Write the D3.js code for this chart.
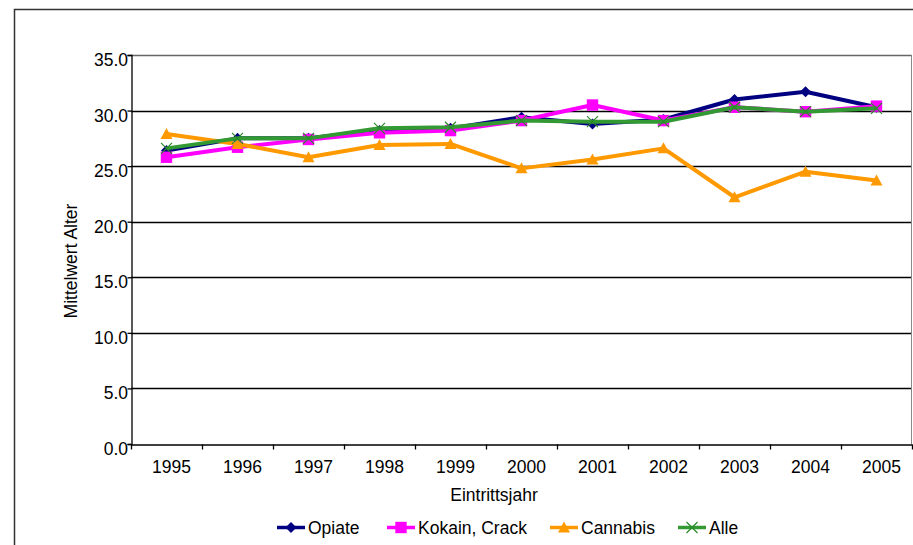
<!DOCTYPE html>
<html>
<head>
<meta charset="utf-8">
<script src="https://cdn.jsdelivr.net/npm/d3@7"></script>
<style>
  body { margin: 0; background: #fff; }
  text { font-family: "Liberation Sans", Arial, sans-serif; fill: #000; }
</style>
</head>
<body>
<div id="chart"></div>
<script>
// data
const years = ["1995", "1996", "1997", "1998", "1999", "2000", "2001", "2002", "2003", "2004", "2005"];
const opiate   = [26.4, 27.5, 27.5, 28.2, 28.4, 29.4, 28.8, 29.2, 31.0, 31.7, 30.3];
const kokain   = [25.8, 26.7, 27.4, 28.0, 28.2, 29.1, 30.5, 29.1, 30.3, 29.9, 30.4];
const cannabis = [27.9, 27.0, 25.8, 26.9, 27.0, 24.8, 25.6, 26.6, 22.2, 24.5, 23.7];
const alle     = [26.6, 27.5, 27.5, 28.4, 28.5, 29.1, 29.0, 29.0, 30.3, 29.9, 30.2];
const yTicks = [0, 5, 10, 15, 20, 25, 30, 35];

const series = [
  {name: "Opiate", values: opiate, color: "#000080", marker: "diamond"},
  {name: "Kokain, Crack", values: kokain, color: "#ff00ff", marker: "square"},
  {name: "Cannabis", values: cannabis, color: "#ff9900", marker: "triangle"},
  {name: "Alle", values: alle, color: "#339933", marker: "cross"}
];

const W = 913, H = 545;
const margin = {left: 131, top: 55, right: 1, bottom: 101};
const fontSize = "17.5px";

const svg = d3.select("#chart").append("svg")
    .attr("width", W)
    .attr("height", H);

// outer chart frame
svg.append("rect")
    .attr("x", 14.5).attr("y", 9.5)
    .attr("width", 920).attr("height", 560)
    .attr("fill", "none")
    .attr("stroke", "#333")
    .attr("stroke-width", 1.5);

const x = d3.scaleBand()
    .domain(years)
    .range([margin.left, W - margin.right]);

const y = d3.scaleLinear()
    .domain([0, 35])
    .range([H - margin.bottom, margin.top]);

// gridlines
svg.append("g")
    .selectAll("line")
    .data(yTicks.filter(d => d > 0))
    .join("line")
    .attr("x1", margin.left).attr("x2", W - margin.right)
    .attr("y1", d => Math.round(y(d)) + 0.5)
    .attr("y2", d => Math.round(y(d)) + 0.5)
    .attr("stroke", d => d == 35 ? "#666" : "#000")
    .attr("stroke-width", 1.3);

// right frame of plot area
svg.append("line")
    .attr("x1", W - margin.right - 0.5).attr("x2", W - margin.right - 0.5)
    .attr("y1", margin.top).attr("y2", H - margin.bottom)
    .attr("stroke", "#888");

// y axis
const yAxis = svg.append("g")
    .attr("transform", "translate(" + (margin.left + 0.5) + ",0)")
    .call(d3.axisLeft(y).tickValues(yTicks).tickFormat(d3.format(".1f")).tickSize(4).tickPadding(-0.5));
yAxis.selectAll("text")
    .style("font-size", fontSize)
    .attr("dy", null)
    .attr("y", 10.5);
yAxis.selectAll("line, path").attr("stroke", "#000").attr("stroke-width", 1.3);

// x axis
const xAxis = svg.append("g")
    .attr("transform", "translate(0," + (H - margin.bottom + 0.5) + ")")
    .call(d3.axisBottom(x).tickSize(0));
xAxis.selectAll("text")
    .style("font-size", fontSize)
    .attr("dy", null)
    .attr("y", 28)
    .attr("x", 5);
xAxis.select("path").attr("stroke", "#000").attr("stroke-width", 1.3);
xAxis.selectAll(".tick line").remove();

// x tick marks sit between categories
xAxis.append("g")
    .selectAll("line")
    .data(years.concat(["end"]))
    .join("line")
    .attr("x1", (d, i) => margin.left + i * x.step() + 0.5)
    .attr("x2", (d, i) => margin.left + i * x.step() + 0.5)
    .attr("y1", 0).attr("y2", 5)
    .attr("stroke", "#000").attr("stroke-width", 1.3);

// axis titles
svg.append("text")
    .attr("x", 494)
    .attr("y", 501)
    .attr("text-anchor", "middle")
    .style("font-size", fontSize)
    .text("Eintrittsjahr");

svg.append("text")
    .attr("transform", "translate(77,261) rotate(-90)")
    .attr("text-anchor", "middle")
    .style("font-size", fontSize)
    .text("Mittelwert Alter");

// marker shapes
const markerPath = function (type) {
    if (type == "diamond") {
        return "M0,-5.5L5.5,0L0,5.5L-5.5,0Z";
    }
    if (type == "square") {
        return d3.symbol().type(d3.symbolSquare).size(130)();
    }
    if (type == "triangle") {
        return "M0,-6L6,5L-6,5Z";
    }
    return "M-5.5,-5.5L5.5,5.5M-5.5,5.5L5.5,-5.5";
};

const line = d3.line()
    .x((d, i) => x(years[i]) + x.bandwidth() / 2)
    .y(d => y(d));

series.forEach(function (s) {
    const g = svg.append("g");
    g.append("path")
        .attr("d", line(s.values))
        .attr("fill", "none")
        .attr("stroke", s.color)
        .attr("stroke-width", 4)
        .attr("stroke-linejoin", "round");

    g.selectAll("path.mark")
        .data(s.values)
        .join("path")
        .attr("class", "mark")
        .attr("transform", (d, i) => "translate(" + (x(years[i]) + x.bandwidth() / 2) + "," + y(d) + ")")
        .attr("d", markerPath(s.marker))
        .attr("fill", s.marker == "cross" ? "none" : s.color)
        .attr("stroke", s.marker == "cross" ? "#2a8a2a" : "none")
        .attr("stroke-width", 1.2);
});

// legend
const legendX = [277, 387, 550, 678];
const legend = svg.append("g");
series.forEach(function (s, i) {
    const lg = legend.append("g")
        .attr("transform", "translate(" + legendX[i] + ",527.5)");
    lg.append("line")
        .attr("x1", 0).attr("x2", 28)
        .attr("y1", 0).attr("y2", 0)
        .attr("stroke", s.color)
        .attr("stroke-width", 3.5);
    lg.append("path")
        .attr("transform", "translate(14,0)")
        .attr("d", markerPath(s.marker))
        .attr("fill", s.marker == "cross" ? "none" : s.color)
        .attr("stroke", s.marker == "cross" ? "#2a8a2a" : "none")
        .attr("stroke-width", 1.2);
    lg.append("text")
        .attr("x", 31)
        .attr("y", 6.5)
        .style("font-size", fontSize)
        .text(s.name);
});
</script>
</body>
</html>
